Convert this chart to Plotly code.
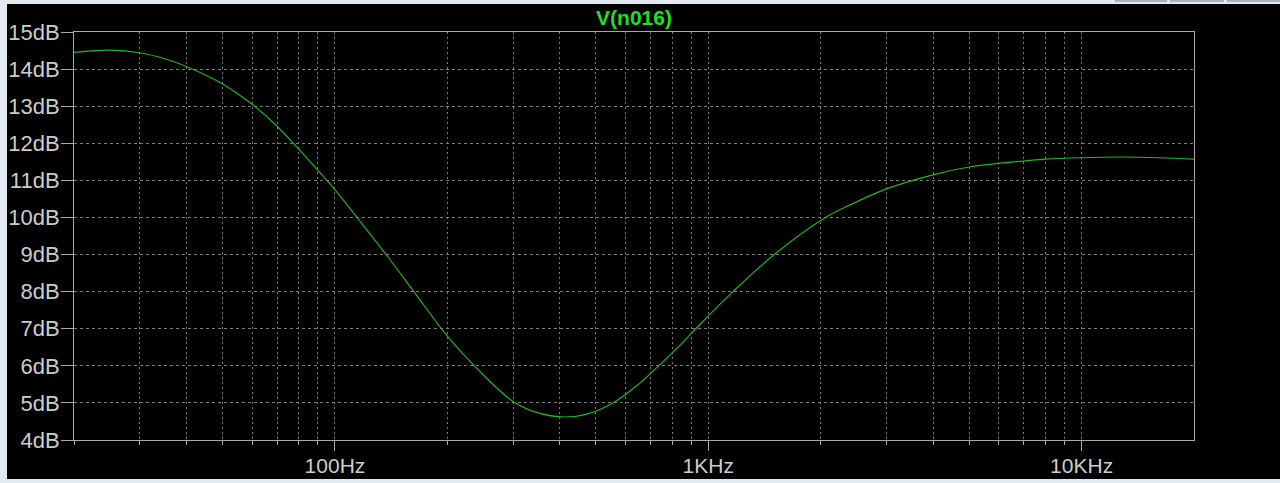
import numpy as np
import plotly.graph_objects as go

# ---- data ----
freq_hz = [20, 25, 30, 35, 40, 50, 60, 70, 80, 90, 100, 115, 140, 165, 200, 240,
           300, 350, 410, 470, 560, 650, 740, 840, 930, 1165, 1520, 2070, 2400, 3000,
           4000, 5000, 6000, 7000, 8000, 10000, 12800, 16200, 20000]
gain_db = [14.45, 14.51, 14.44, 14.28, 14.07, 13.60, 13.05, 12.46, 11.84, 11.27, 10.75,
           9.98, 8.88, 7.92, 6.80, 5.93, 5.04, 4.73, 4.62, 4.69, 5.02, 5.50, 6.02, 6.56,
           7.02, 8.00, 9.04, 10.01, 10.34, 10.77, 11.15, 11.36, 11.46, 11.52, 11.57,
           11.61, 11.63, 11.61, 11.57]

trace_name = "V(n016)"
x_major_vals = [100, 1000, 10000]
x_major_text = ["100Hz", "1KHz", "10KHz"]
x_minor_vals = [20, 30, 40, 50, 60, 70, 80, 90,
                200, 300, 400, 500, 600, 700, 800, 900,
                2000, 3000, 4000, 5000, 6000, 7000, 8000, 9000]
y_vals = list(range(4, 16))
y_text = [f"{v}dB" for v in y_vals]

W, H = 1280, 483
ML, MR, MT, MB = 74, 86, 32, 43
PW = W - ML - MR
PH = H - MT - MB

def px_x(p):
    return (p - ML) / PW

def px_y(p):
    return (H - MB - p) / PH

GRID = "#7a7a7a"
FRAME = "#a8a8a8"
LABEL = "#cccccc"
FONT = "Liberation Sans, Arial"

fig = go.Figure()
fig.add_trace(go.Scatter(
    x=freq_hz, y=gain_db, mode="lines", name=trace_name,
    line=dict(color="#22b422", width=1.2, shape="spline", smoothing=1.0),
    hoverinfo="x+y",
))

fig.update_layout(
    width=W, height=H,
    margin=dict(l=ML, r=MR, t=MT, b=MB, pad=0, autoexpand=False),
    paper_bgcolor="#e2e9f1",
    plot_bgcolor="#000000",
    showlegend=False,
    title=dict(text="<b>" + trace_name + "</b>", x=0.5, xref="paper",
               y=1 - 17.5 / H, yref="container", yanchor="middle", xanchor="center",
               automargin=False,
               font=dict(family=FONT, size=21, color="#1fdf1f")),
    font=dict(family=FONT, size=21, color=LABEL),
    shapes=[
        dict(type="rect", xref="paper", yref="paper", layer="below",
             x0=px_x(7), x1=px_x(1282), y0=px_y(479), y1=px_y(4),
             fillcolor="#000000", line=dict(width=0)),
        dict(type="rect", xref="paper", yref="paper", layer="above",
             x0=px_x(1115), x1=px_x(1167), y0=px_y(2), y1=px_y(-2),
             fillcolor="#a9b0b8", line=dict(width=0)),
        dict(type="rect", xref="paper", yref="paper", layer="above",
             x0=px_x(1170), x1=px_x(1224), y0=px_y(2), y1=px_y(-2),
             fillcolor="#a9b0b8", line=dict(width=0)),
        dict(type="rect", xref="paper", yref="paper", layer="above",
             x0=px_x(1227), x1=px_x(1282), y0=px_y(2), y1=px_y(-2),
             fillcolor="#a9b0b8", line=dict(width=0)),
    ],
)

fig.update_xaxes(
    type="log", automargin=False,
    range=[np.log10(20), np.log10(20000)],
    tickmode="array", tickvals=x_major_vals, ticktext=x_major_text,
    ticks="outside", ticklen=10, tickcolor=FRAME, tickwidth=1,
    ticklabelstandoff=-3,
    showgrid=True, gridcolor=GRID, gridwidth=1, griddash="2px,3px",
    showline=True, linecolor=FRAME, linewidth=1, mirror=True,
    zeroline=False,
    tickfont=dict(family=FONT, size=21, color=LABEL),
    minor=dict(tickmode="array", tickvals=x_minor_vals, ticks="outside", ticklen=4,
               tickcolor=FRAME, tickwidth=1, showgrid=True, gridcolor=GRID,
               gridwidth=1, griddash="2px,3px"),
)

fig.update_yaxes(
    automargin=False,
    range=[4, 15],
    tickmode="array", tickvals=y_vals, ticktext=y_text,
    ticks="outside", ticklen=12, tickcolor=FRAME, tickwidth=1,
    ticklabelstandoff=-3,
    showgrid=True, gridcolor=GRID, gridwidth=1, griddash="3px,3px",
    showline=True, linecolor=FRAME, linewidth=1, mirror=True,
    zeroline=False,
    tickfont=dict(family=FONT, size=22, color=LABEL),
)

fig.write_html(
    "out.html",
    config={"displayModeBar": False},
    post_script="document.body.style.margin='0px';document.body.style.overflow='hidden';",
)
